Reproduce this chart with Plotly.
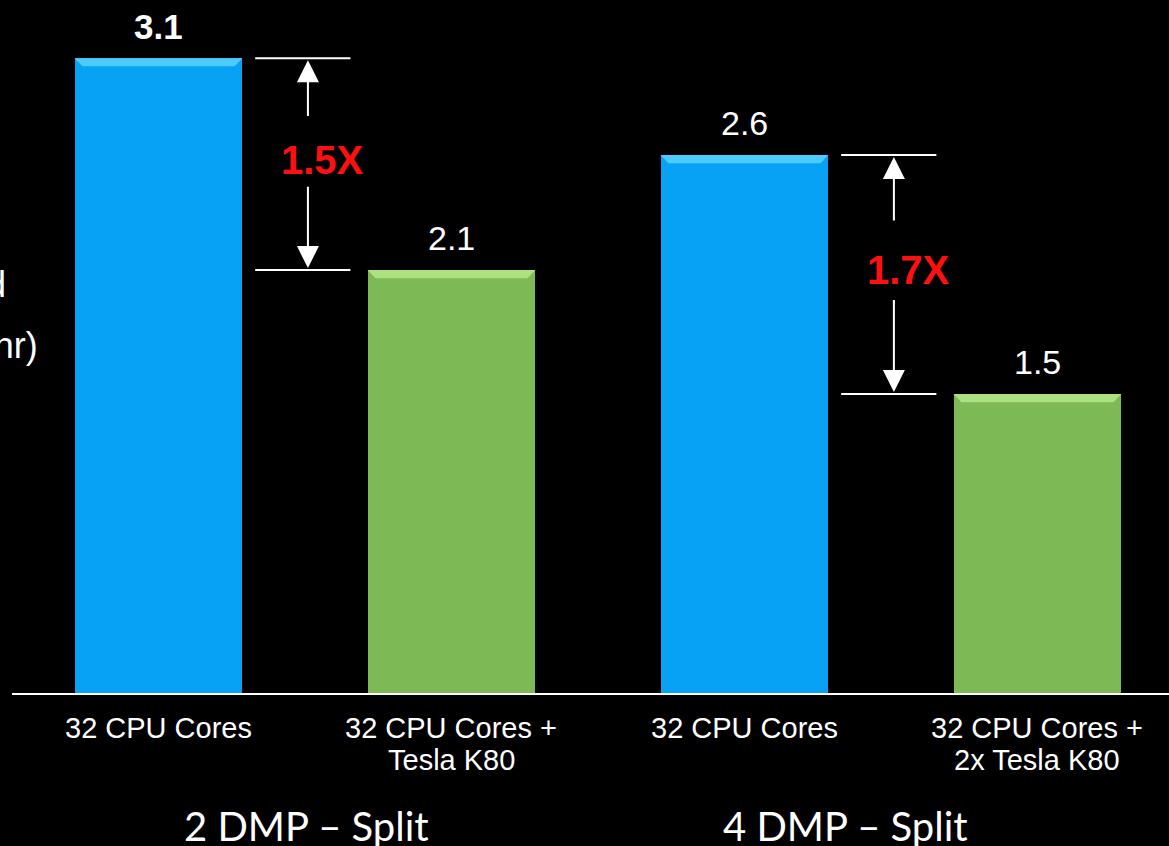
import plotly.graph_objects as go

# ---- data ----
categories = ["32 CPU Cores", "32 CPU Cores +<br>Tesla K80", "32 CPU Cores", "32 CPU Cores +<br>2x Tesla K80"]
values = [3.1, 2.065, 2.627, 1.46]
value_labels = ["3.1", "2.1", "2.6", "1.5"]
label_bold = [True, False, False, False]
bar_colors = ["#08A2F5", "#7DB954", "#08A2F5", "#7DB954"]
bevel_colors = ["#4DCBFF", "#ADE07F", "#4DCBFF", "#ADE07F"]
groups = ["2 DMP \u2013 Split", "4 DMP \u2013 Split"]
group_centers = [0.505, 2.345]
speedups = ["1.5X", "1.7X"]
speedup_pairs = [(0, 1), (2, 3)]

BAR_W = 0.573
x = list(range(len(categories)))

fig = go.Figure()
fig.add_trace(go.Bar(
    x=x, y=values, width=BAR_W,
    marker=dict(color=bar_colors, line=dict(width=0)),
    hoverinfo="skip", showlegend=False,
))

shapes = []
annotations = []

# bevel on bar tops
dx, dy = 0.027, 0.04
for i, v in enumerate(values):
    l, r = i - BAR_W / 2, i + BAR_W / 2
    shapes.append(dict(type="path", xref="x", yref="y",
                       path=f"M{l},{v} L{r},{v} L{r-dx},{v-dy} L{l+dx},{v-dy} Z",
                       fillcolor=bevel_colors[i], line=dict(width=0), layer="above"))

# value labels
for i, (v, t, b) in enumerate(zip(values, value_labels, label_bold)):
    annotations.append(dict(x=i, y=v, xref="x", yref="y", text=f"<b>{t}</b>" if b else t,
                            showarrow=False, yanchor="middle", yshift=32,
                            font=dict(family="Liberation Sans, Arial", size=35 if b else 34, color="white")))

# category labels (each line placed separately)
for i, c in enumerate(categories):
    for j, line in enumerate(c.split("<br>")):
        annotations.append(dict(x=i, y=0, xref="x", yref="paper", text=line, showarrow=False,
                                yanchor="middle", yshift=-(35 + 32 * j),
                                font=dict(family="Liberation Sans, Arial", size=29, color="white")))

# group labels
for g, gc in zip(groups, group_centers):
    annotations.append(dict(x=gc, y=0, xref="x", yref="paper", text=g, showarrow=False,
                            yanchor="middle", yshift=-133,
                            font=dict(family="Lato, Open Sans", size=40, color="white")))

# speedup markers
for (a, b), s in zip(speedup_pairs, speedups):
    xm = (a + b) / 2 + 0.01
    hi, lo = values[a], values[b]
    for yy in (hi, lo):
        shapes.append(dict(type="line", xref="x", yref="y", x0=xm - 0.18, x1=xm + 0.145,
                           y0=yy, y1=yy, line=dict(color="white", width=2)))
    span = hi - lo
    annotations.append(dict(x=xm, y=hi, ax=xm, ay=hi - 0.28 * span, xref="x", yref="y",
                            axref="x", ayref="y", text="", showarrow=True, arrowhead=2,
                            arrowsize=2.2, arrowwidth=2, arrowcolor="white", standoff=2))
    annotations.append(dict(x=xm, y=lo, ax=xm, ay=lo + 0.4 * span, xref="x", yref="y",
                            axref="x", ayref="y", text="", showarrow=True, arrowhead=2,
                            arrowsize=2.2, arrowwidth=2, arrowcolor="white", standoff=2))
    annotations.append(dict(x=xm + 0.05, y=lo + 0.52 * span, xref="x", yref="y", text=f"<b>{s}</b>",
                            showarrow=False, yanchor="middle",
                            font=dict(family="Liberation Sans, Arial", size=40, color="#FF1010")))

# partially visible axis title at the left edge
annotations.append(dict(x=-0.0037, y=(693 - 285) / 693, xref="paper", yref="paper", text="Elapsed",
                        showarrow=False, xanchor="right", yanchor="middle",
                        font=dict(family="Liberation Sans, Arial", size=36, color="white")))
annotations.append(dict(x=0.0245, y=(693 - 345) / 693, xref="paper", yref="paper", text="Time (hr)",
                        showarrow=False, xanchor="right", yanchor="middle",
                        font=dict(family="Liberation Sans, Arial", size=36, color="white")))

fig.update_layout(
    width=1169, height=846,
    margin=dict(l=12, r=0, t=0, b=153, pad=0),
    paper_bgcolor="black", plot_bgcolor="black",
    xaxis=dict(range=[-0.5, 3.449], showticklabels=False, showgrid=False, zeroline=False,
               showline=True, linecolor="white", linewidth=2, ticks=""),
    yaxis=dict(range=[0, 3.384], showticklabels=False, showgrid=False, zeroline=False,
               showline=False),
    shapes=shapes, annotations=annotations,
    bargap=0,
)

fig.write_html("out.html")
